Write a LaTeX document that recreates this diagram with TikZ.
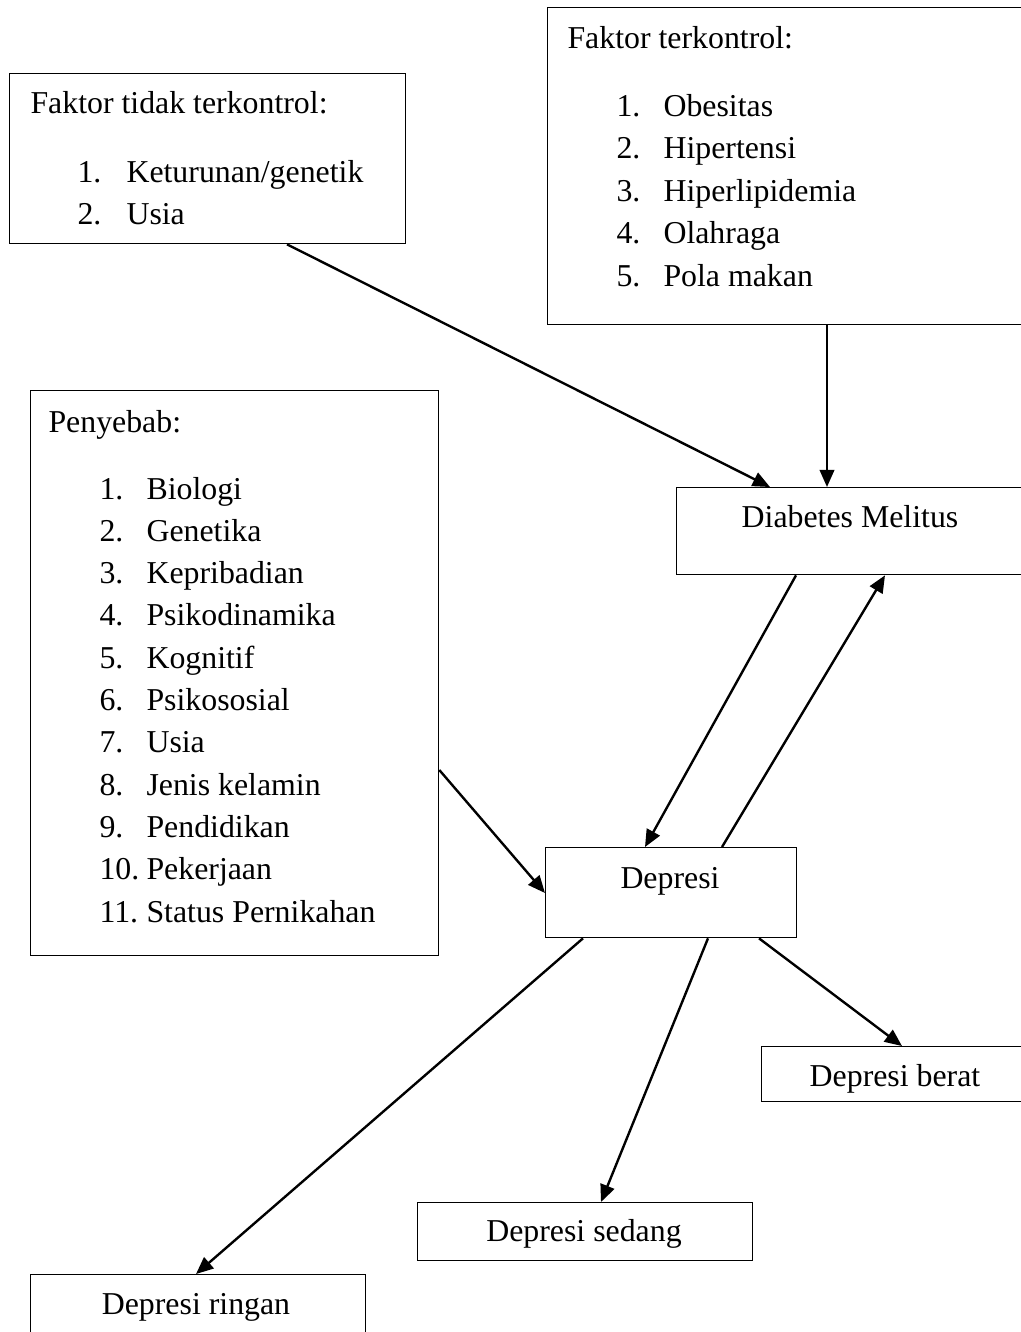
\documentclass[tikz,border=0pt]{standalone}
\usepackage{fontspec}
\setmainfont{Liberation Serif}
\usetikzlibrary{arrows.meta,calc}
\newcommand\pxu{0.377pt}
\tikzset{
  kotak/.style={draw,line width=0.5pt,inner sep=0pt,anchor=north west},
  teks/.style={inner sep=0pt,anchor=base west},
  tengah/.style={inner sep=0pt,anchor=base},
  panah/.style={-{Triangle[length=6.5pt,width=5.5pt]},line width=0.9pt},
}
\begin{document}
\begin{tikzpicture}[x=\pxu,y=-\pxu,font=\fontsize{12pt}{14pt}\selectfont]
\useasboundingbox (0,0) rectangle (1021,1332);
\clip (0,0) rectangle (1021,1332);
% kotak-kotak
\node[kotak,minimum width=396*\pxu,minimum height=170*\pxu] (tidak) at (9,73) {};
\node[kotak,minimum width=490*\pxu,minimum height=317*\pxu] (kontrol) at (547,7) {};
\node[kotak,minimum width=408*\pxu,minimum height=565*\pxu] (sebab) at (30,390) {};
\node[kotak,minimum width=355*\pxu,minimum height=87*\pxu] (dm) at (676,487) {};
\node[kotak,minimum width=251*\pxu,minimum height=90*\pxu] (dep) at (545,847) {};
\node[kotak,minimum width=275*\pxu,minimum height=55*\pxu] (berat) at (761,1046) {};
\node[kotak,minimum width=335*\pxu,minimum height=58*\pxu] (sedang) at (417,1202) {};
\node[kotak,minimum width=335*\pxu,minimum height=80*\pxu] (ringan) at (30,1274) {};
% faktor tidak terkontrol
\node[teks] (tidak-j) at (30,113) {Faktor tidak terkontrol:};
\foreach \t [count=\i] in {Keturunan/genetik,Usia} {
  \node[teks] (tidak-n\i) at (77,{182+42*(\i-1)}) {\i.};
  \node[teks] (tidak-t\i) at (126,{182+42*(\i-1)}) {\t};
}
% faktor terkontrol
\node[teks] (kontrol-j) at (567,48) {Faktor terkontrol:};
\foreach \t [count=\i] in {Obesitas,Hipertensi,Hiperlipidemia,Olahraga,Pola makan} {
  \node[teks] (kontrol-n\i) at (616,{116+42.5*(\i-1)}) {\i.};
  \node[teks] (kontrol-t\i) at (663,{116+42.5*(\i-1)}) {\t};
}
% penyebab
\node[teks] (sebab-j) at (48,432) {Penyebab:};
\foreach \t [count=\i] in {Biologi,Genetika,Kepribadian,Psikodinamika,Kognitif,Psikososial,Usia,Jenis kelamin,Pendidikan,Pekerjaan,Status Pernikahan} {
  \node[teks] (sebab-n\i) at (99,{499+42.3*(\i-1)}) {\i.};
  \node[teks] (sebab-t\i) at (146,{499+42.3*(\i-1)}) {\t};
}
% judul kotak
\node[tengah] (dm-t) at (850,527) {Diabetes Melitus};
\node[tengah] (dep-t) at (670,888) {Depresi};
\node[tengah] (berat-t) at (895,1086) {Depresi berat};
\node[tengah] (sedang-t) at (584,1241) {Depresi sedang};
\node[tengah] (ringan-t) at (196,1314) {Depresi ringan};
% panah
\draw[panah] ($(tidak.south west)+(278,0)$) -- ($(dm.north west)+(94,0)$);
\draw[panah] ($(kontrol.south west)+(280,0)$) -- ($(dm.north west)+(151,0)$);
\draw[panah] ($(dm.south west)+(120,0)$) -- ($(dep.north west)+(100,0)$);
\draw[panah] ($(dep.north west)+(177,0)$) -- ($(dm.south west)+(209,0)$);
\draw[panah] ($(sebab.north east)+(0,380)$) -- ($(dep.north west)+(0,46)$);
\draw[panah] ($(dep.south west)+(38,0)$) -- ($(ringan.north west)+(166,0)$);
\draw[panah] ($(dep.south west)+(163,0)$) -- ($(sedang.north west)+(184,0)$);
\draw[panah] ($(dep.south west)+(214,0)$) -- ($(berat.north west)+(141,0)$);
\end{tikzpicture}
\end{document}
